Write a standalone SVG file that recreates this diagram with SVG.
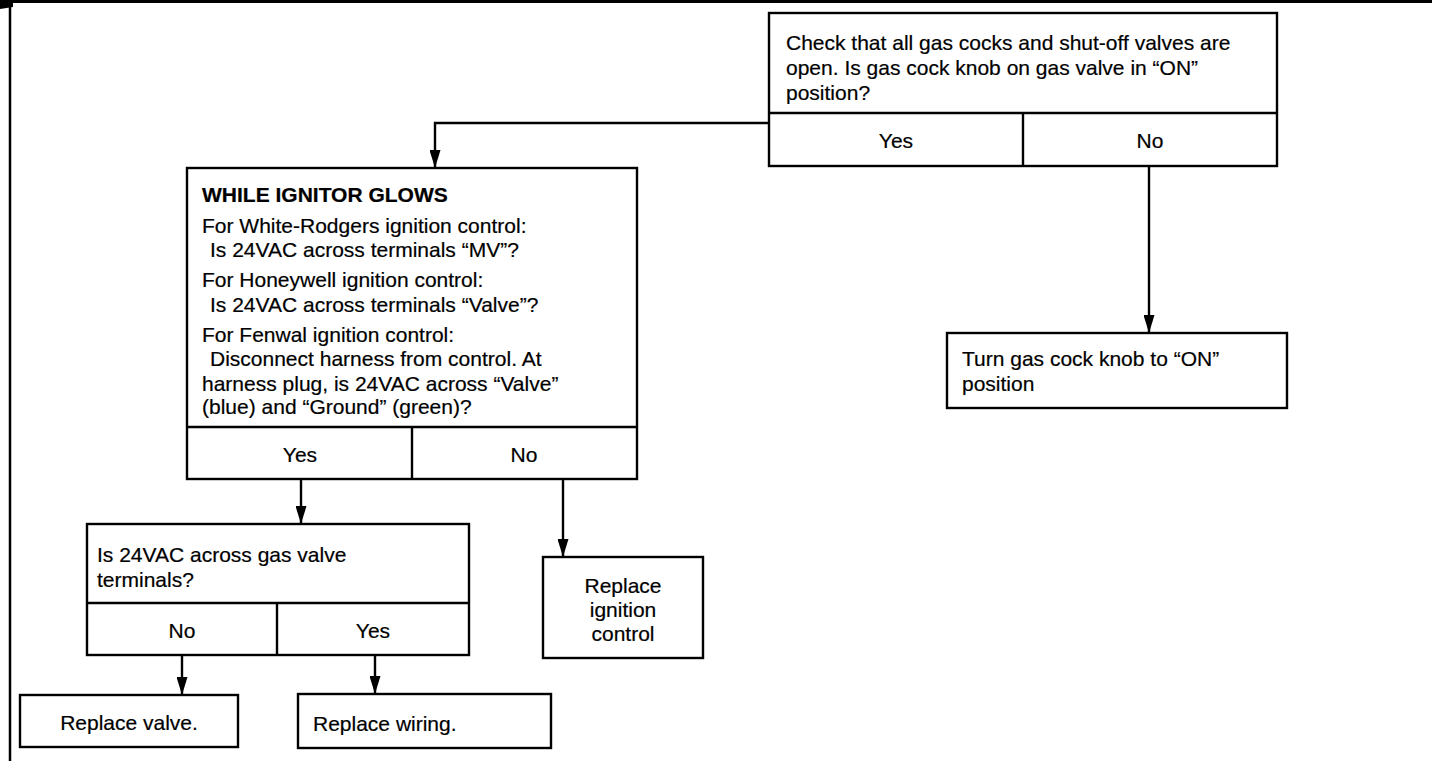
<svg xmlns="http://www.w3.org/2000/svg" width="1432" height="761" viewBox="0 0 1432 761">
<style>
.box{fill:#fff;stroke:#000;stroke-width:2.4}
.dv{fill:none;stroke:#000;stroke-width:2.4}
.t{font-family:"Liberation Sans",Arial,Helvetica,sans-serif;font-size:21px;fill:#000;stroke:#000;stroke-width:0.2}
.b{font-weight:bold}
.c{text-anchor:middle}
.conn{fill:none;stroke:#000;stroke-width:2.4}
.frame{fill:none;stroke:#000}
</style>
<defs>
<marker id="ah" markerUnits="userSpaceOnUse" markerWidth="18" markerHeight="11" refX="18" refY="5.5" orient="auto" viewBox="0 0 18 11">
<path d="M0,0 L18,5.5 L0,11 z" fill="#000"/>
</marker>
</defs>
<rect width="1432" height="761" fill="#fff"/>
<g id="frame">
<line class="frame" x1="0" y1="1.5" x2="1432" y2="1.5" stroke-width="3"/>
<line class="frame" x1="10" y1="0" x2="10" y2="761" stroke-width="2.5"/>
<path d="M0,0 H13 V7 L0,9 z" fill="#000"/>
</g>
<g id="connectors">
<path class="conn" d="M769,123 H435 V168" marker-end="url(#ah)"/>
<path class="conn" d="M1149,166 V333" marker-end="url(#ah)"/>
<path class="conn" d="M301,479 V524" marker-end="url(#ah)"/>
<path class="conn" d="M563,479 V557" marker-end="url(#ah)"/>
<path class="conn" d="M182,655 V695" marker-end="url(#ah)"/>
<path class="conn" d="M375,655 V694" marker-end="url(#ah)"/>
</g>
<g id="check-gas-cocks">
<rect class="box" x="769" y="13" width="508" height="153"/>
<line class="dv" x1="769" y1="113" x2="1277" y2="113"/>
<line class="dv" x1="1023" y1="113" x2="1023" y2="166"/>
<text class="t" x="786" y="50">Check that all gas cocks and shut-off valves are</text>
<text class="t" x="786" y="75">open. Is gas cock knob on gas valve in “ON”</text>
<text class="t" x="786" y="100">position?</text>
<text class="t c" x="896" y="148">Yes</text>
<text class="t c" x="1150" y="148">No</text>
</g>
<g id="while-ignitor-glows">
<rect class="box" x="187" y="168" width="450" height="311"/>
<line class="dv" x1="187" y1="427" x2="637" y2="427"/>
<line class="dv" x1="412" y1="427" x2="412" y2="479"/>
<text class="t b" x="202" y="202">WHILE IGNITOR GLOWS</text>
<text class="t" x="202" y="233">For White-Rodgers ignition control:</text>
<text class="t" x="210" y="257">Is 24VAC across terminals “MV”?</text>
<text class="t" x="202" y="287">For Honeywell ignition control:</text>
<text class="t" x="210" y="312">Is 24VAC across terminals “Valve”?</text>
<text class="t" x="202" y="342">For Fenwal ignition control:</text>
<text class="t" x="210" y="366">Disconnect harness from control. At</text>
<text class="t" x="202" y="391">harness plug, is 24VAC across “Valve”</text>
<text class="t" x="202" y="414">(blue) and “Ground” (green)?</text>
<text class="t c" x="300" y="462">Yes</text>
<text class="t c" x="524" y="462">No</text>
</g>
<g id="turn-knob-on">
<rect class="box" x="947" y="333" width="340" height="75"/>
<text class="t" x="962" y="366">Turn gas cock knob to “ON”</text>
<text class="t" x="962" y="391">position</text>
</g>
<g id="gas-valve-terminals">
<rect class="box" x="87" y="524" width="382" height="131"/>
<line class="dv" x1="87" y1="603" x2="469" y2="603"/>
<line class="dv" x1="277" y1="603" x2="277" y2="655"/>
<text class="t" x="97" y="562">Is 24VAC across gas valve</text>
<text class="t" x="97" y="587">terminals?</text>
<text class="t c" x="182" y="638">No</text>
<text class="t c" x="373" y="638">Yes</text>
</g>
<g id="replace-ignition-control">
<rect class="box" x="543" y="557" width="160" height="101"/>
<text class="t c" x="623" y="593">Replace</text>
<text class="t c" x="623" y="617">ignition</text>
<text class="t c" x="623" y="641">control</text>
</g>
<g id="replace-valve">
<rect class="box" x="20" y="695" width="218" height="52"/>
<text class="t c" x="129" y="730">Replace valve.</text>
</g>
<g id="replace-wiring">
<rect class="box" x="298" y="694" width="253" height="54"/>
<text class="t" x="313" y="731">Replace wiring.</text>
</g>
</svg>
